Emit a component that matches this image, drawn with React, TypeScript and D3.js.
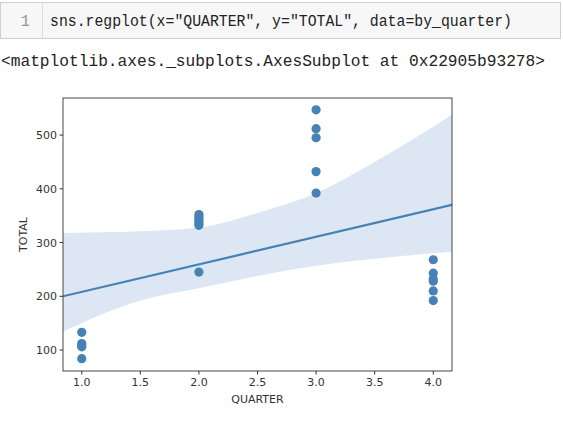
import * as React from 'react';
import * as d3 from 'd3';

const q1 = [133, 112, 108, 106, 84];
const q2 = [352, 348, 344, 340, 336, 332, 245];
const q3 = [547, 512, 495, 432, 392];
const q4 = [268, 243, 232, 228, 210, 192];
const quarters = [1, 2, 3, 4];
const series = [q1, q2, q3, q4];

const bandX = [0.84, 1.5, 2.0, 2.5, 3.0, 3.5, 4.16];
const bandUpper = [318, 321, 328, 355, 392, 450, 538];
const bandLower = [134, 192, 215, 238, 257, 270, 283];
const fitX = [0.84, 4.16];
const fitY = [200, 370];

const xTicks = [1.0, 1.5, 2.0, 2.5, 3.0, 3.5, 4.0];
const yTicks = [100, 200, 300, 400, 500];

const color = '#4682b4';

export default function App() {
  const left = 63, right = 452, top = 98, bottom = 371;
  const x = d3.scaleLinear().domain([0.84, 4.16]).range([left, right]);
  const y = d3.scaleLinear().domain([61, 569]).range([bottom, top]);

  const band = d3.area<number>()
    .x((_, i) => x(bandX[i]))
    .y0((_, i) => y(bandLower[i]))
    .y1((_, i) => y(bandUpper[i]))
    .curve(d3.curveMonotoneX);
  const line = d3.line<number>().x((_, i) => x(fitX[i])).y(d => y(d));

  const points = series.flatMap((vals, i) => vals.map(v => ({ q: quarters[i], v })));

  return (
    <svg width={563} height={431} style={{ position: 'absolute', left: 0, top: 0, background: '#fff' }}>
      <rect x={0.5} y={2.5} width={560} height={36} fill="#f7f7f7" stroke="#cfcfcf" />
      <line x1={42.5} x2={42.5} y1={3} y2={38} stroke="#dddddd" />
      <text x={30} y={26} fontFamily="Liberation Mono" fontSize={16} fill="#999" textAnchor="end">1</text>
      <text x={50} y={26} fontFamily="Liberation Mono" fontSize={16} fill="#222" textLength={462} lengthAdjust="spacingAndGlyphs">sns.regplot(x="QUARTER", y="TOTAL", data=by_quarter)</text>
      <text x={1} y={66} fontFamily="Liberation Mono" fontSize={16.5} fill="#222" textLength={544} lengthAdjust="spacingAndGlyphs">&lt;matplotlib.axes._subplots.AxesSubplot at 0x22905b93278&gt;</text>

      <defs><clipPath id="ax"><rect x={left} y={top} width={right - left} height={bottom - top} /></clipPath></defs>
      <g clipPath="url(#ax)">
        <path d={band(bandX) || ''} fill="#dce7f3" />
        <path d={line(fitY) || ''} stroke={color} strokeWidth={2.2} fill="none" />
        {points.map((p, i) => (
          <circle key={i} cx={x(p.q)} cy={y(p.v)} r={4.6} fill={color} />
        ))}
      </g>
      <rect x={left} y={top} width={right - left} height={bottom - top} fill="none" stroke="#333" strokeWidth={0.9} />

      <g fontFamily="DejaVu Sans" fontSize={11} fill="#333">
        {xTicks.map(t => (
          <g key={t}>
            <line x1={x(t)} x2={x(t)} y1={bottom} y2={bottom + 3.5} stroke="#333" />
            <text x={x(t)} y={bottom + 15} textAnchor="middle">{t.toFixed(1)}</text>
          </g>
        ))}
        {yTicks.map(t => (
          <g key={t}>
            <line x1={left - 3.5} x2={left} y1={y(t)} y2={y(t)} stroke="#333" />
            <text x={left - 6} y={y(t) + 4} textAnchor="end">{t}</text>
          </g>
        ))}
        <text x={(left + right) / 2} y={bottom + 32} textAnchor="middle">QUARTER</text>
        <text transform={`translate(${left - 36},${(top + bottom) / 2}) rotate(-90)`} textAnchor="middle">TOTAL</text>
      </g>
    </svg>
  );
}
